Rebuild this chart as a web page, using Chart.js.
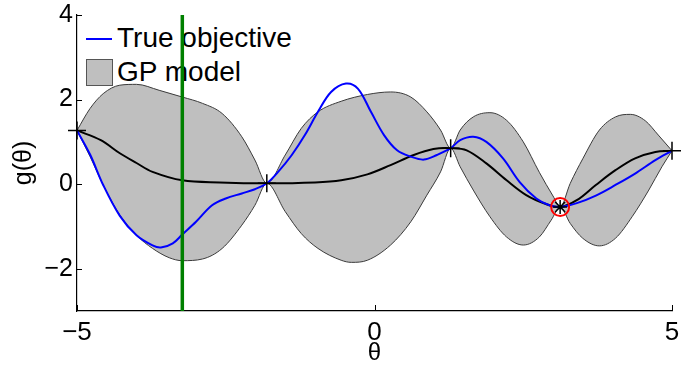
<!DOCTYPE html>
<html>
<head>
<meta charset="utf-8">
<script src="https://cdn.jsdelivr.net/npm/chart.js@4.4.1/dist/chart.umd.min.js"></script>
<style>
body { margin: 0; background: #fff; }
#wrap { position: relative; width: 683px; height: 365px; font-family: "Liberation Sans", Arial, sans-serif; }
#chart { position: absolute; left: 0; top: 0; z-index: 1; }
.leg { position: absolute; z-index: 0; font-size: 28px; line-height: 28px; color: #000; white-space: nowrap; }
</style>
</head>
<body>
<div id="wrap">
    <div class="leg" style="left:86px;top:38px;width:26px;height:2px;background:#0000ff"></div>
    <div class="leg" style="left:117px;top:24px">True objective</div>
    <div class="leg" style="left:86px;top:59px;width:25px;height:25px;background:#bfbfbf;border:1px solid #555"></div>
    <div class="leg" style="left:117px;top:58px">GP model</div>
    <canvas id="chart" width="683" height="365"></canvas>
</div>
<script>
// GP band (upper / lower)
const upperTheta = [-5, -4.78, -4.56, -4.28, -4.0, -3.62, -3.23, -2.89, -2.56, -2.23, -2.01, -1.81,
    -1.5, -1.23, -0.95, -0.56, -0.12, 0.27, 0.61, 0.88, 1.11, 1.28,
    1.44, 1.66, 1.94, 2.22, 2.5, 2.77, 3.0, 3.12,
    3.29, 3.5, 3.78, 4.05, 4.3, 4.55, 4.77, 5];
const upperG = [1.27, 1.79, 2.14, 2.34, 2.36, 2.22, 2.06, 1.91, 1.67, 1.12, 0.57, 0.02,
    0.69, 1.32, 1.71, 1.96, 2.12, 2.18, 2.06, 1.71, 1.28, 0.85,
    1.28, 1.59, 1.69, 1.51, 1.0, 0.28, -0.28, -0.54,
    0.02, 0.6, 1.28, 1.59, 1.65, 1.5, 1.16, 0.79];

const lowerTheta = [-5, -4.78, -4.56, -4.28, -4.0, -3.73, -3.45, -3.23, -2.89, -2.56, -2.23, -2.01, -1.81,
    -1.5, -1.23, -0.95, -0.56, -0.39, -0.12, 0.27, 0.61, 0.88, 1.11, 1.28,
    1.44, 1.66, 1.94, 2.22, 2.5, 2.77, 2.97, 3.12,
    3.29, 3.5, 3.78, 4.05, 4.33, 4.61, 4.83, 5];
const lowerG = [1.27, 0.65, -0.02, -0.73, -1.21, -1.52, -1.74, -1.81, -1.77, -1.52, -0.97, -0.5, 0.02,
    -0.65, -1.17, -1.52, -1.8, -1.85, -1.8, -1.44, -0.89, -0.26, 0.29, 0.85,
    0.41, -0.14, -0.77, -1.25, -1.44, -1.25, -0.85, -0.54,
    -0.93, -1.28, -1.46, -1.28, -0.77, -0.14, 0.41, 0.79];

// GP mean
const meanTheta = [-5, -4.6, -4.28, -4.0, -3.73, -3.23, -2.6, -1.81, -1.0, -0.56, -0.12, 0.27, 0.66, 0.99, 1.28,
    1.55, 1.88, 2.22, 2.55, 2.88, 3.12, 3.4, 3.72, 4.05, 4.38, 4.72, 5];
const meanG = [1.27, 1.04, 0.73, 0.5, 0.29, 0.09, 0.04, 0.02, 0.04, 0.09, 0.23, 0.45, 0.69, 0.83, 0.85,
    0.8, 0.49, 0.09, -0.26, -0.47, -0.54, -0.38, -0.02, 0.33, 0.61, 0.76, 0.79];

// true objective
const trueTheta = [-5, -4.78, -4.56, -4.28, -4.0, -3.73, -3.59, -3.39, -3.23, -3.0, -2.73, -2.5, -2.23, -2.01, -1.81,
    -1.62, -1.39, -1.17, -0.95, -0.73, -0.48, -0.28, -0.06, 0.16, 0.38, 0.61, 0.83, 1.05, 1.28,
    1.44, 1.66, 1.88, 2.16, 2.44, 2.72, 2.94, 3.12, 3.4, 3.72, 4.05, 4.38, 4.72, 5];
const trueG = [1.27, 0.7, -0.02, -0.75, -1.21, -1.45, -1.5, -1.4, -1.19, -0.89, -0.5, -0.34, -0.22, -0.12, 0.02,
    0.29, 0.69, 1.16, 1.71, 2.18, 2.38, 2.26, 1.71, 1.16, 0.8, 0.65, 0.58, 0.69, 0.85,
    1.04, 1.12, 1.0, 0.61, 0.05, -0.34, -0.5, -0.54, -0.45, -0.27, -0.02, 0.25, 0.57, 0.79];

// observations, best point, next sample
const obsTheta = [-5, -1.81, 1.28, 3.12, 5];
const obsG = [1.27, 0.02, 0.85, -0.54, 0.79];
const bestIdx = 3;
const nextTheta = -3.23;

const xTicks = [-5, 0, 5];
const yTicks = [-2, 0, 2, 4];

const FONT = "'Liberation Sans', Arial, sans-serif";

function pts(xs, ys) {
    return xs.map((x, i) => ({ x: x, y: ys[i] }));
}
function fmt(v) {
    return v < 0 ? "\u2212" + Math.abs(v) : String(v);
}

// tick marks pointing into the plot
const innerTicks = {
    id: "innerTicks",
    afterDraw(chart) {
        const { ctx, chartArea, scales } = chart;
        ctx.save();
        ctx.strokeStyle = "#000";
        ctx.lineWidth = 1;
        ctx.beginPath();
        scales.x.ticks.forEach((t) => {
            const px = Math.round(scales.x.getPixelForValue(t.value)) + 0.5;
            ctx.moveTo(px, chartArea.bottom);
            ctx.lineTo(px, chartArea.bottom - 6);
        });
        scales.y.ticks.forEach((t) => {
            const py = Math.round(scales.y.getPixelForValue(t.value)) + 0.5;
            ctx.moveTo(chartArea.left, py);
            ctx.lineTo(chartArea.left + 5, py);
        });
        ctx.stroke();
        ctx.restore();
    },
};

// band keeps its cusps, the two curves are smoothed
const bandLine = { pointRadius: 0, cubicInterpolationMode: "monotone", fill: false };
const smoothLine = { pointRadius: 0, tension: 0.35, fill: false };

new Chart(document.getElementById("chart"), {
    type: "line",
    data: {
        datasets: [
            Object.assign({}, bandLine, {
                data: pts(upperTheta, upperG),
                borderColor: "#3a3a3a",
                borderWidth: 1,
                backgroundColor: "#bfbfbf",
                fill: "+1",
                order: 6,
            }),
            Object.assign({}, bandLine, {
                data: pts(lowerTheta, lowerG),
                borderColor: "#3a3a3a",
                borderWidth: 1,
                order: 5,
            }),
            Object.assign({}, smoothLine, {
                data: pts(meanTheta, meanG),
                borderColor: "#000",
                borderWidth: 2,
                order: 4,
            }),
            Object.assign({}, smoothLine, {
                data: pts(trueTheta, trueG),
                borderColor: "#0000ff",
                borderWidth: 2,
                order: 3,
            }),
            {
                data: [{ x: nextTheta, y: -3 }, { x: nextTheta, y: 4 }],
                borderColor: "#008000",
                borderWidth: 3.5,
                pointRadius: 0,
                order: 2,
            },
            {
                data: pts(obsTheta, obsG),
                showLine: false,
                pointStyle: obsTheta.map((t, i) => (i === bestIdx ? "star" : "cross")),
                pointRadius: obsTheta.map((t, i) => (i === bestIdx ? 7 : 9)),
                borderColor: "#000",
                borderWidth: 1.5,
                clip: false,
                order: 1,
            },
            {
                data: [{ x: obsTheta[bestIdx], y: obsG[bestIdx] }],
                showLine: false,
                pointStyle: "circle",
                pointRadius: 9,
                borderColor: "#ff0000",
                backgroundColor: "rgba(0,0,0,0)",
                borderWidth: 2,
                clip: false,
                order: 0,
            },
        ],
    },
    options: {
        responsive: false,
        animation: false,
        layout: { padding: { left: 0, right: 6, top: 15, bottom: 0 } },
        plugins: {
            legend: { display: false },
            tooltip: { enabled: false },
            filler: { drawTime: "beforeDatasetsDraw" },
        },
        scales: {
            x: {
                type: "linear",
                min: -5,
                max: 5,
                afterBuildTicks: (s) => {
                    s.ticks = xTicks.map((v) => ({ value: v }));
                },
                afterFit: (s) => {
                    s.height = 54;
                    s.paddingLeft = 0;
                    s.paddingRight = 0;
                },
                grid: { display: true, drawOnChartArea: false, drawTicks: false },
                border: { display: true, color: "#000", width: 1.2 },
                ticks: {
                    color: "#000",
                    font: { family: FONT, size: 26 },
                    padding: 6,
                    maxRotation: 0,
                    autoSkip: false,
                    callback: (v) => fmt(v),
                },
                title: {
                    display: true,
                    text: "\u03b8",
                    color: "#000",
                    font: { family: FONT, size: 24, lineHeight: 1 },
                    padding: { top: 0, bottom: 0 },
                },
            },
            y: {
                min: -3,
                max: 4,
                afterBuildTicks: (s) => {
                    s.ticks = yTicks.map((v) => ({ value: v }));
                },
                afterFit: (s) => {
                    s.width = 77;
                    s.paddingTop = 0;
                    s.paddingBottom = 0;
                },
                grid: { display: true, drawOnChartArea: false, drawTicks: false },
                border: { display: true, color: "#000", width: 1.2 },
                ticks: {
                    color: "#000",
                    font: { family: FONT, size: 25 },
                    padding: 4,
                    callback: (v) => fmt(v),
                },
                title: {
                    display: true,
                    text: "g(\u03b8)",
                    color: "#000",
                    font: { family: FONT, size: 25, lineHeight: 1 },
                    padding: { top: 12, bottom: 0 },
                },
            },
        },
    },
    plugins: [innerTicks],
});
</script>
</body>
</html>
